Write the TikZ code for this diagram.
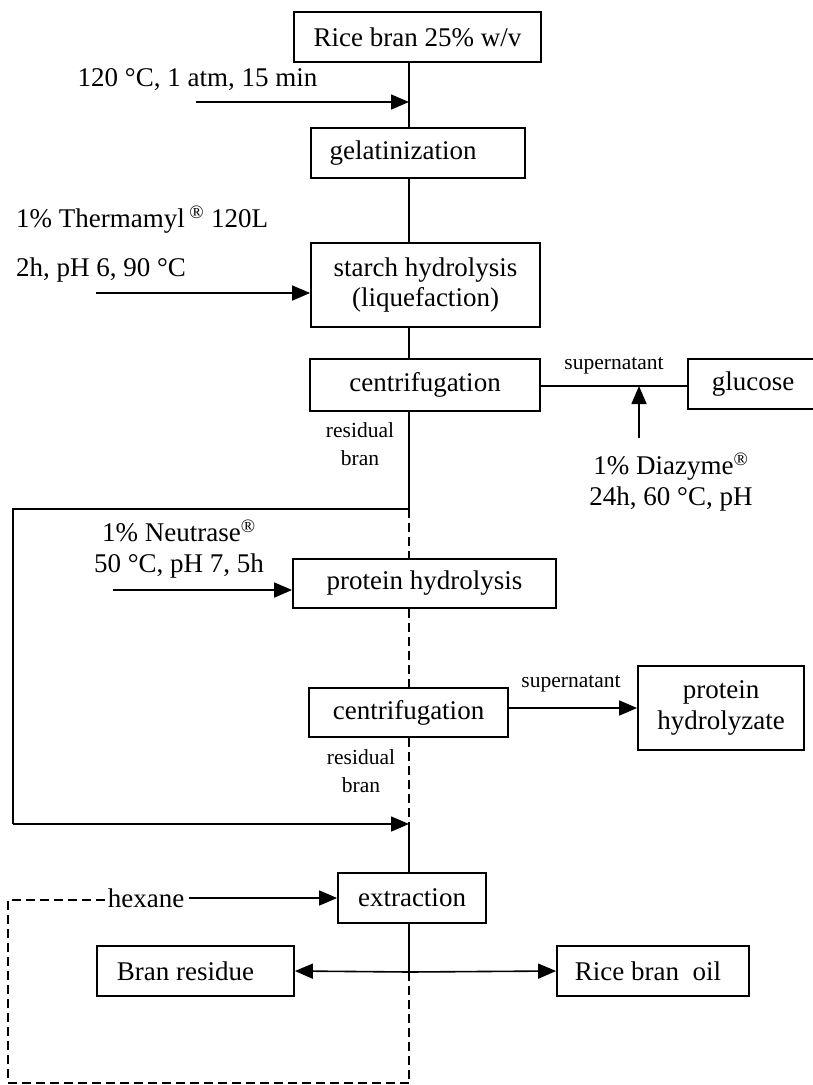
\documentclass[tikz,border=0pt]{standalone}
\usepackage{fontspec}
\setmainfont{Liberation Serif}
\usetikzlibrary{arrows.meta}
\begin{document}
\begin{tikzpicture}[x=1pt,y=-1pt,
  box/.style={draw,line width=1.8pt,inner sep=0pt,align=center,font=\fontsize{27}{31}\selectfont},
  lbl/.style={inner sep=0pt,align=center,font=\fontsize{27}{31}\selectfont},
  small/.style={inner sep=0pt,align=center,font=\fontsize{21.5}{28}\selectfont},
  conn/.style={line width=1.4pt},
  arr/.style={line width=1.6pt,-{Triangle[length=18pt,width=15pt]}},
  dsh/.style={line width=1.4pt,dash pattern=on 9pt off 5pt}]
\useasboundingbox[fill=white] (0,0) rectangle (813,1085);
\coordinate (m) at (409,0);
% boxes
\node[box,minimum width=247pt,minimum height=50pt] (b1) at (417.5,37) {Rice bran 25\% w/v};
\node[box,minimum width=214pt,minimum height=50pt] (gel) at (418,153) {gelatinization\hspace{30pt}};
\node[box,minimum width=229pt,minimum height=84pt] (st) at (425.5,285) {starch hydrolysis\\(liquefaction)};
\node[box,minimum width=230pt,minimum height=52pt] (c1) at (425,385) {centrifugation};
\node[box,minimum width=130pt,minimum height=50pt] (glu) at (753,384) {glucose};
\node[box,minimum width=263pt,minimum height=49pt] (pr) at (424.5,583.5) {protein hydrolysis};
\node[box,minimum width=199pt,minimum height=49pt] (c2) at (408.5,712.5) {centrifugation};
\node[box,minimum width=166pt,minimum height=84pt] (ph) at (721,708) {protein\\hydrolyzate};
\node[box,minimum width=148pt,minimum height=50pt] (ex) at (412,898) {extraction};
\node[box,minimum width=197pt,minimum height=50pt] (br) at (195.5,971) {Bran residue\hspace{20pt}};
\node[box,minimum width=192pt,minimum height=50pt] (rbo) at (653,971) {Rice bran\ \ oil\hspace{10pt}};
% labels
\node[lbl] (t1) at (197.5,80) {120 °C, 1 atm, 15 min};
\node[lbl,anchor=west] (t2) at (16,220) {1\% Thermamyl\,\textsuperscript{\textregistered}\ 120L};
\node[lbl,anchor=west] (t3) at (16,270) {2h, pH 6, 90 °C};
\node[small] (s1) at (614,366) {supernatant};
\node[small] (r1) at (360,444) {residual\\bran};
\node[lbl] (dia) at (671,482) {1\% Diazyme\textsuperscript{\textregistered}\\24h, 60 °C, pH};
\node[lbl] (neu) at (179,549) {1\% Neutrase\textsuperscript{\textregistered}\\50 °C, pH 7, 5h};
\node[small] (s2) at (571,684) {supernatant};
\node[small] (r2) at (361,771) {residual\\bran};
\node[lbl] (hex) at (146,898) {hexane};
% coordinates
\coordinate (a1s) at (196,102);
\coordinate (a1e) at (409,102);
\coordinate (a2s) at (96,293);
\coordinate (dis) at (639,438);
\coordinate (die) at (639,386);
\coordinate (a3s) at (113,590);
\coordinate (j1) at (409,509);
\coordinate (j1l) at (13,509);
\coordinate (j2l) at (13,824);
\coordinate (j2) at (409,824);
\coordinate (j3) at (409,972);
\coordinate (hl) at (8,900);
\coordinate (bl) at (8,1083);
\coordinate (bm) at (409,1083);
% main line
\draw[conn] (b1.south -| m) -- (gel.north -| m);
\draw[conn] (gel.south -| m) -- (st.north -| m);
\draw[conn] (st.south -| m) -- (c1.north -| m);
\draw[conn] (c1.south -| m) -- (j1);
\draw[dsh] (j1) -- (pr.north -| m);
\draw[dsh] (pr.south -| m) -- (c2.north -| m);
\draw[dsh] (c2.south -| m) -- (j2);
\draw[conn] (j2) -- (ex.north -| m);
\draw[conn] (ex.south -| m) -- (j3);
\draw[dsh] (j3) -- (bm);
% side inputs
\draw[arr] (a1s) -- (a1e);
\draw[arr] (a2s) -- (a2s -| st.west);
\draw[conn] (c1.east |- die) -- (glu.west |- die);
\draw[arr] (dis) -- (die);
\draw[arr] (a3s) -- (a3s -| pr.west);
\draw[arr] (c2.east |- ph.center) -- (ph.west);
% recycle loop
\draw[conn] (j1) -- (j1l) -- (j2l);
\draw[arr] (j2l) -- (j2);
% hexane
\draw[arr] (hex.east) ++(5,0) coordinate (hx) (hx) -- (hx -| ex.west);
\draw[dsh] (bm) -- (bl) -- (hl) -- (hex.west |- hl);
% products
\draw[arr] (j3) -- (br.east);
\draw[arr] (j3) -- (rbo.west);
\end{tikzpicture}
\end{document}
